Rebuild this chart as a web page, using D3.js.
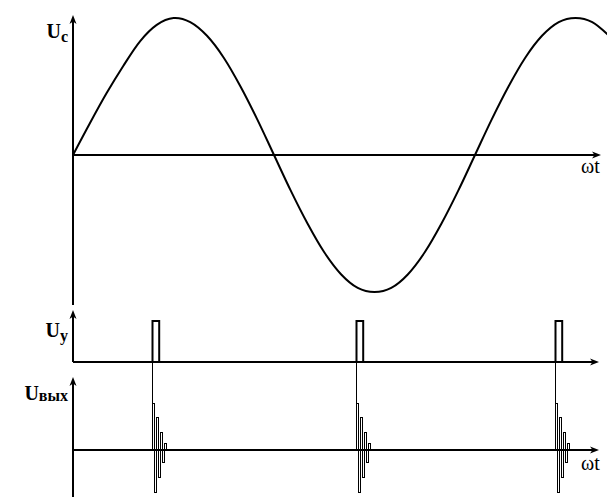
<!DOCTYPE html>
<html><head><meta charset="utf-8">
<script src="https://cdn.jsdelivr.net/npm/d3@7"></script>
<style>body{margin:0;background:#fff}svg{display:block}text{font-family:"Liberation Serif","DejaVu Serif",serif}</style>
</head><body>
<script>
// Sine (U_c) samples: phase in degrees, relative amplitude
const sinePhase = [0,15,30,45,60,75,90,105,120,135,150,165,180,195,210,225,240,255,270,285,300,315,330,345,360,375,390,405,420,435,450,465,480];
const sineValue = [0,0.23,0.45,0.65,0.83,0.95,1,0.97,0.87,0.71,0.5,0.26,0,-0.26,-0.5,-0.71,-0.87,-0.97,-1,-0.97,-0.87,-0.71,-0.5,-0.26,0,0.26,0.5,0.71,0.87,0.97,1,0.97,0.87];
// Control pulses (U_y): start phase (deg), width (deg), height
const pulseStart = [71, 253.5, 431.5];
const pulseWidth = 6;
const pulseHeight = 1;
// Output (U_вых) damped oscillation half-cycle amplitudes
const burstAmp = [1, -0.89, 0.70, -0.57, 0.38, -0.26, 0.15];
const burstStep = 1.8; // degrees per half-cycle
// Labels
const labels = {uc: ["U", "c"], uy: ["U", "y"], uout: ["U", "вых"], axis: "ωt"};

const W = 607, H = 497;
const svg = d3.select("body").append("svg").attr("width", W).attr("height", H);

const x = d3.scaleLinear().domain([0, 360]).range([73, 475]);
const ySin = d3.scaleLinear().domain([-1, 1]).range([292, 18]);
const yUy = d3.scaleLinear().domain([0, 1]).range([362, 321]);
const yOut = d3.scaleLinear().domain([-1, 1]).range([497, 403]);

const x0 = x(0);
function upArrow(g, tx, ty) {
  g.append("path").attr("d", `M${tx},${ty} L${tx-3.5},${ty+9} L${tx},${ty+6.5} L${tx+3.5},${ty+9} Z`).attr("fill", "#000");
}
function rightArrow(g, tx, ty) {
  g.append("path").attr("d", `M${tx},${ty} L${tx-9},${ty-3.5} L${tx-6.5},${ty} L${tx-9},${ty+3.5} Z`).attr("fill", "#000");
}
const axes = svg.append("g").attr("stroke", "#000").attr("stroke-width", 2).attr("fill", "none");
// top axes
axes.append("line").attr("x1", x0).attr("x2", x0).attr("y1", 18).attr("y2", 305);
axes.append("line").attr("x1", x0).attr("x2", 596).attr("y1", ySin(0)).attr("y2", ySin(0));
upArrow(svg, x0, 15); rightArrow(svg, 601, ySin(0));
// Uy axes
axes.append("line").attr("x1", x0).attr("x2", x0).attr("y1", 313).attr("y2", yUy(0));
axes.append("line").attr("x1", x0).attr("x2", 594).attr("y1", yUy(0)).attr("y2", yUy(0));
upArrow(svg, x0, 310); rightArrow(svg, 599, yUy(0));
// Uout axes
axes.append("line").attr("x1", x0).attr("x2", x0).attr("y1", 380).attr("y2", 497);
axes.append("line").attr("x1", x0).attr("x2", 594).attr("y1", yOut(0)).attr("y2", yOut(0));
upArrow(svg, x0, 377); rightArrow(svg, 599, yOut(0));

// sine
const line = d3.line().x(d => x(d[0])).y(d => ySin(d[1])).curve(d3.curveCardinal);
svg.append("path").datum(d3.zip(sinePhase, sineValue)).attr("d", line)
  .attr("fill", "none").attr("stroke", "#000").attr("stroke-width", 2);

// pulses
svg.append("g").selectAll("rect").data(pulseStart).join("rect")
  .attr("x", d => Math.round(x(d)) + 0.5).attr("y", yUy(pulseHeight))
  .attr("width", x(pulseWidth) - x(0)).attr("height", yUy(0) - yUy(pulseHeight))
  .attr("fill", "none").attr("stroke", "#000").attr("stroke-width", 2);

// trace lines and bursts
const bg = svg.append("g").attr("shape-rendering", "crispEdges");
pulseStart.forEach(p => {
  const px = Math.round(x(p)) + 0.5;
  bg.append("line").attr("x1", px).attr("x2", px).attr("y1", yUy(0)).attr("y2", yOut(0))
    .attr("stroke", "#000").attr("stroke-width", 1);
  burstAmp.forEach((a, i) => {
    const xa = Math.round(x(p + i * burstStep)) + 0.5;
    const xb = Math.round(x(p + (i + 1) * burstStep)) + 0.5;
    const ya = yOut(Math.max(a, 0)), yb = yOut(Math.min(a, 0));
    bg.append("rect").attr("x", xa).attr("y", Math.round(ya) + 0.5)
      .attr("width", xb - xa).attr("height", Math.round(yb) - Math.round(ya))
      .attr("fill", "none").attr("stroke", "#000").attr("stroke-width", 1);
  });
});
// re-draw baseline over bursts
svg.append("line").attr("x1", x0).attr("x2", 594).attr("y1", yOut(0)).attr("y2", yOut(0)).attr("stroke", "#000").attr("stroke-width", 2);

// labels
function label(main, sub, xr, yb, subDy) {
  const t = svg.append("text").attr("x", xr).attr("y", yb).attr("text-anchor", "end")
    .attr("font-weight", "bold").attr("font-size", 20);
  t.append("tspan").text(main);
  t.append("tspan").attr("font-size", 16).attr("dy", subDy).text(sub);
}
label(labels.uc[0], labels.uc[1], 68, 38, 4);
label(labels.uy[0], labels.uy[1], 68, 337, 4);
label(labels.uout[0], labels.uout[1], 68, 400, 1);
svg.append("text").attr("x", 581).attr("y", 173).attr("font-size", 20).text(labels.axis);
svg.append("text").attr("x", 581).attr("y", 470).attr("font-size", 20).text(labels.axis);
</script>
</body></html>
